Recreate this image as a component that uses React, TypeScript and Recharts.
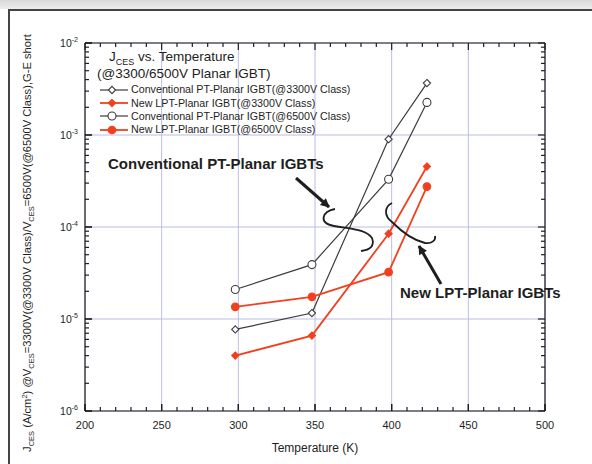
import React from 'react';
import { LineChart, Line, XAxis, YAxis, CartesianGrid, Legend, ReferenceLine } from 'recharts';

// leakage current density J_CES (A/cm²) per junction temperature (K)
const temperatures = [298, 348, 398, 423];
const convPT3300 = [7.7e-6, 1.16e-5, 9.0e-4, 3.67e-3];
const newLPT3300 = [4.0e-6, 6.6e-6, 8.45e-5, 4.54e-4];
const convPT6500 = [2.09e-5, 3.9e-5, 3.3e-4, 2.26e-3];
const newLPT6500 = [1.355e-5, 1.74e-5, 3.23e-5, 2.75e-4];

const xTicks = [200, 250, 300, 350, 400, 450, 500];
const xAllTicks = [
  200, 210, 220, 230, 240, 250, 260, 270, 280, 290, 300, 310, 320, 330, 340, 350,
  360, 370, 380, 390, 400, 410, 420, 430, 440, 450, 460, 470, 480, 490, 500,
];
const yTicks = [1e-6, 1e-5, 1e-4, 1e-3, 1e-2];
const yAllTicks = [
  ...yTicks.slice(0, -1).flatMap((d) => [1, 2, 3, 4, 5, 6, 7, 8, 9].map((m) => m * d)),
  1e-2,
];

const data = temperatures.map((t, i) => ({
  t,
  convPT3300: convPT3300[i],
  newLPT3300: newLPT3300[i],
  convPT6500: convPT6500[i],
  newLPT6500: newLPT6500[i],
}));

const FONT = '"Liberation Sans", Arial, Helvetica, sans-serif';
const GRAY = '#3c3c3c';
const RED = '#f2401f';
const INK = '#1e1e1e';

const xDomain: [number, number] = [200, 500];
const yDomain: [number, number] = [1e-6, 1e-2];

// inward tick lengths, in data units (about 7px / 4px on this frame)
const X_MAJOR = 4.6;
const X_MINOR = 2.6;
const Y_MAJOR = 1.192;
const Y_MINOR = 1.105;
const isMajorX = (v: number) => v % 50 === 0;
const isMajorY = (v: number) => {
  const e = Math.log10(v);
  return Math.abs(e - Math.round(e)) < 1e-9;
};

type Kind = 'diamondOpen' | 'diamondFilled' | 'circleOpen' | 'circleFilled';

const series: { key: string; name: string; color: string; kind: Kind; width: number }[] = [
  { key: 'convPT3300', name: 'Conventional PT-Planar IGBT(@3300V Class)', color: GRAY, kind: 'diamondOpen', width: 1.2 },
  { key: 'newLPT3300', name: 'New LPT-Planar IGBT(@3300V Class)', color: RED, kind: 'diamondFilled', width: 1.8 },
  { key: 'convPT6500', name: 'Conventional PT-Planar IGBT(@6500V Class)', color: GRAY, kind: 'circleOpen', width: 1.2 },
  { key: 'newLPT6500', name: 'New LPT-Planar IGBT(@6500V Class)', color: RED, kind: 'circleFilled', width: 1.8 },
];

const Marker = ({ kind, cx, cy, color }: { kind: Kind; cx: number; cy: number; color: string }) => {
  if (kind === 'diamondOpen' || kind === 'diamondFilled') {
    const r = 3.6;
    return (
      <path
        d={`M${cx} ${cy - r}L${cx + r} ${cy}L${cx} ${cy + r}L${cx - r} ${cy}Z`}
        fill={kind === 'diamondFilled' ? color : '#fff'}
        stroke={color}
        strokeWidth={1.1}
      />
    );
  }
  return (
    <circle
      cx={cx}
      cy={cy}
      r={kind === 'circleFilled' ? 3.8 : 4}
      fill={kind === 'circleFilled' ? color : '#fff'}
      stroke={color}
      strokeWidth={1.1}
    />
  );
};

const PowTick = ({ x, y, payload }: any) => {
  const exp = Math.round(Math.log10(payload.value));
  return (
    <text x={x} y={y} dy={4} textAnchor="end" fontSize={10.5} fill={INK} fontFamily={FONT}>
      10
      <tspan dy={-5} fontSize={7}>
        {exp}
      </tspan>
    </text>
  );
};

const YLabel = () => (
  <text
    transform="translate(31 243) rotate(-90)"
    textAnchor="middle"
    fontSize={11.2}
    fill={INK}
    fontFamily={FONT}
  >
    J<tspan dy={3} fontSize={7.5}>CES</tspan>
    <tspan dy={-3}>{'  (A/cm'}</tspan>
    <tspan dy={-4} fontSize={7.5}>2</tspan>
    <tspan dy={4}>{')   @V'}</tspan>
    <tspan dy={3} fontSize={7.5}>CES</tspan>
    <tspan dy={-3}>=3300V(@3300V Class)/V</tspan>
    <tspan dy={3} fontSize={7.5}>CES</tspan>
    <tspan dy={-3}>=6500V(@6500V Class),G-E short</tspan>
  </text>
);

const XLabel = () => (
  <text x={315} y={452} textAnchor="middle" fontSize={12} fill={INK} fontFamily={FONT}>
    Temperature  (K)
  </text>
);

const renderLegend = () => (
  <div style={{ fontFamily: FONT, color: INK, lineHeight: 1 }}>
    <div style={{ fontSize: 13.5, marginLeft: 12, height: 17 }}>
      J<sub style={{ fontSize: 9 }}>CES</sub> vs. Temperature
    </div>
    <div style={{ fontSize: 13.5, height: 16 }}>(@3300/6500V Planar IGBT)</div>
    {series.map((s) => (
      <div key={s.key} style={{ display: 'flex', alignItems: 'center', height: 13.3, fontSize: 10.7 }}>
        <svg width={34} height={12} style={{ flex: 'none' }}>
          <line x1={3} y1={6} x2={31} y2={6} stroke={s.color} strokeWidth={s.width} />
          <Marker kind={s.kind} cx={15} cy={6} color={s.color} />
        </svg>
        <span style={{ whiteSpace: 'nowrap' }}>{s.name}</span>
      </div>
    ))}
  </div>
);

// callout arcs and arrows pointing at the two groups of curves
const Callouts = () => (
  <svg
    width={592}
    height={464}
    style={{ position: 'absolute', left: 0, top: 0, pointerEvents: 'none' }}
  >
    <defs>
      <marker id="head" viewBox="0 0 10 10" refX={9} refY={5} markerWidth={11} markerHeight={9} markerUnits="userSpaceOnUse" orient="auto">
        <path d="M0 0L10 5L0 10Z" fill={INK} />
      </marker>
    </defs>
    <text x={108} y={169} fontSize={15} fontWeight="bold" fill={INK} fontFamily={FONT}>
      Conventional PT-Planar IGBTs
    </text>
    <line x1={296} y1={178} x2={329} y2={207} stroke={INK} strokeWidth={3} markerEnd="url(#head)" />
    <path
      d="M335 209C322 211 318 223 334 226C350 229 366 229 372 238C375 246 370 250 361 251"
      fill="none"
      stroke={INK}
      strokeWidth={1.8}
    />
    <text x={400} y={298} fontSize={15} fontWeight="bold" fill={INK} fontFamily={FONT}>
      New LPT-Planar IGBTs
    </text>
    <line x1={441} y1={284} x2={419} y2={246} stroke={INK} strokeWidth={3} markerEnd="url(#head)" />
    <path
      d="M392 203C384 207 384 216 392 222C400 230 412 240 425 243C432 244 436 240 435 236"
      fill="none"
      stroke={INK}
      strokeWidth={1.8}
    />
  </svg>
);

const axisStroke = { stroke: INK, strokeWidth: 1.2 };

export default function App() {
  return (
    <div
      style={{
        position: 'absolute',
        left: 0,
        top: 0,
        width: 592,
        height: 464,
        background: '#fff',
        overflow: 'hidden',
      }}
    >
      <div
        style={{
          position: 'absolute',
          left: 0,
          top: 0,
          width: 592,
          height: 9,
          background: 'linear-gradient(#d9d9d9, #ececec)',
        }}
      />
      <div style={{ position: 'absolute', left: 8, top: 9, width: 600, height: 1.5, background: '#444' }} />
      <div style={{ position: 'absolute', left: 8, top: 9, width: 1.5, height: 470, background: '#444' }} />

      <LineChart
        width={592}
        height={464}
        data={data}
        margin={{ top: 43, right: 47, bottom: 13, left: 40 }}
        style={{ position: 'absolute', left: 0, top: 0 }}
      >
        <CartesianGrid stroke="#bcbce6" strokeWidth={1} />

        {/* negative tickSize turns the major tick marks inward */}
        <XAxis
          dataKey="t"
          type="number"
          domain={xDomain}
          ticks={xTicks}
          interval={0}
          height={40}
          axisLine={axisStroke}
          tickLine={axisStroke}
          tickSize={-7}
          tickMargin={17}
          tick={{ fontSize: 11, fill: INK, fontFamily: FONT }}
          label={{ content: XLabel }}
        />
        <YAxis
          scale="log"
          type="number"
          domain={yDomain}
          ticks={yTicks}
          interval={0}
          allowDataOverflow
          width={45}
          axisLine={axisStroke}
          tickLine={axisStroke}
          tickSize={-7}
          tickMargin={14}
          tick={PowTick}
          label={{ content: YLabel }}
        />

        {/* top and right edges of the frame */}
        <ReferenceLine y={1e-2} stroke={INK} strokeWidth={1.2} ifOverflow="visible" />
        <ReferenceLine x={500} stroke={INK} strokeWidth={1.2} ifOverflow="visible" />

        {/* remaining inward ticks on all four sides */}
        {xAllTicks.map((v) => (
          <ReferenceLine
            key={`b${v}`}
            stroke={INK}
            strokeWidth={1.2}
            ifOverflow="visible"
            segment={[{ x: v, y: 1e-6 }, { x: v, y: 1e-6 * (isMajorX(v) ? Y_MAJOR : Y_MINOR) }]}
          />
        ))}
        {xAllTicks.map((v) => (
          <ReferenceLine
            key={`t${v}`}
            stroke={INK}
            strokeWidth={1.2}
            ifOverflow="visible"
            segment={[{ x: v, y: 1e-2 }, { x: v, y: 1e-2 / (isMajorX(v) ? Y_MAJOR : Y_MINOR) }]}
          />
        ))}
        {yAllTicks.map((w) => (
          <ReferenceLine
            key={`l${w}`}
            stroke={INK}
            strokeWidth={1.2}
            ifOverflow="visible"
            segment={[{ x: 200, y: w }, { x: 200 + (isMajorY(w) ? X_MAJOR : X_MINOR), y: w }]}
          />
        ))}
        {yAllTicks.map((w) => (
          <ReferenceLine
            key={`r${w}`}
            stroke={INK}
            strokeWidth={1.2}
            ifOverflow="visible"
            segment={[{ x: 500, y: w }, { x: 500 - (isMajorY(w) ? X_MAJOR : X_MINOR), y: w }]}
          />
        ))}

        <Legend
          layout="vertical"
          align="center"
          verticalAlign="middle"
          content={renderLegend}
          wrapperStyle={{ left: 97, top: 50, width: 300 }}
        />

        {series.map((s) => (
          <Line
            key={s.key}
            dataKey={s.key}
            name={s.name}
            type="linear"
            stroke={s.color}
            strokeWidth={s.width}
            isAnimationActive={false}
            dot={(p: any) => <Marker key={`${s.key}-${p.index}`} kind={s.kind} cx={p.cx} cy={p.cy} color={s.color} />}
            activeDot={false}
          />
        ))}
      </LineChart>
      <Callouts />
    </div>
  );
}
